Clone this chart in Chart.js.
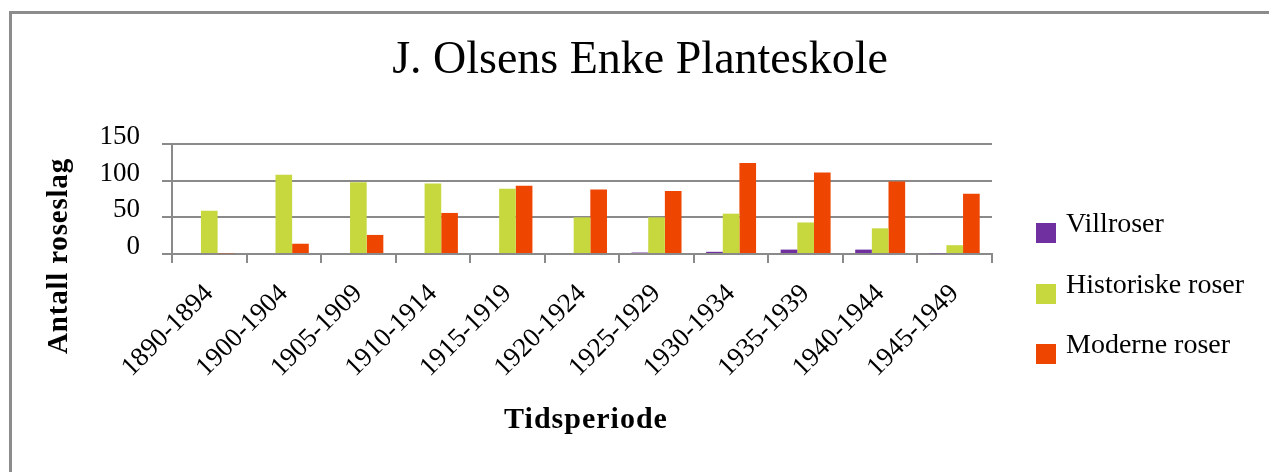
<!DOCTYPE html>
<html><head><meta charset="utf-8">
<script src="https://cdn.jsdelivr.net/npm/chart.js@4.4.1/dist/chart.umd.min.js"></script>
<style>
html,body{margin:0;padding:0;background:#fff;overflow:hidden}
#wrap{position:relative;width:1269px;height:472px}
#frame{position:absolute;left:9px;top:11px;width:1300px;height:500px;border-left:3px solid #8c8c8c;border-top:3px solid #8c8c8c;box-sizing:border-box}
canvas{position:absolute;left:0;top:0}
</style></head><body>
<div id="wrap"><div id="frame"></div><canvas id="c" width="1269" height="472"></canvas></div>
<script>
const chartTitle = 'J. Olsens Enke Planteskole';
const xTitle = 'Tidsperiode';
const yTitle = 'Antall roseslag';
const categories = ['1890-1894','1900-1904','1905-1909','1910-1914','1915-1919','1920-1924','1925-1929','1930-1934','1935-1939','1940-1944','1945-1949'];
const seriesNames = ['Villroser','Historiske roser','Moderne roser'];
const villroser = [0, 0, 0, 0, 0, 0, 2, 3, 6, 6, 1];
const historiske = [59, 108, 98, 96, 89, 50, 50, 55, 43, 35, 12];
const moderne = [1, 14, 26, 56, 93, 88, 86, 124, 111, 99, 82];
const yTicks = [0, 50, 100, 150];
const colors = ['#7030A0', '#C6D83E', '#EE4500'];

const FONT = "'Liberation Serif', 'Times New Roman', serif";
const GRID = '#8a8a8a';

const decor = {
  id: 'decor',
  afterDraw(chart) {
    const ctx = chart.ctx;
    const ca = chart.chartArea;
    ctx.save();
    ctx.fillStyle = '#000';
    // title
    ctx.font = '46px ' + FONT;
    ctx.textAlign = 'center';
    ctx.textBaseline = 'alphabetic';
    ctx.fillText(chartTitle, 640, 73);
    // x title
    ctx.font = 'bold 30px ' + FONT;
    ctx.letterSpacing = '1px';
    ctx.fillText(xTitle, (ca.left + ca.right) / 2 + 4, 428);
    // y title
    ctx.save();
    ctx.translate(67, 256);
    ctx.rotate(-Math.PI / 2);
    ctx.font = 'bold 29px ' + FONT;
    ctx.letterSpacing = '0.8px';
    ctx.fillText(yTitle, 0, 0);
    ctx.restore();
    ctx.letterSpacing = '0px';
    // legend
    ctx.font = '28px ' + FONT;
    ctx.textAlign = 'left';
    const tops = [223, 284, 344];
    chart.data.datasets.forEach((ds, i) => {
      ctx.fillStyle = ds.backgroundColor;
      ctx.fillRect(1036, tops[i], 20, 20);
      ctx.fillStyle = '#000';
      ctx.fillText(ds.label, 1066, tops[i] + 9);
    });
    ctx.restore();
  }
};

new Chart(document.getElementById('c'), {
  type: 'bar',
  data: {
    labels: categories,
    datasets: [
      { label: seriesNames[0], data: villroser, backgroundColor: colors[0] },
      { label: seriesNames[1], data: historiske, backgroundColor: colors[1] },
      { label: seriesNames[2], data: moderne, backgroundColor: colors[2] }
    ]
  },
  options: {
    responsive: false,
    animation: false,
    datasets: { bar: { barPercentage: 1.0, categoryPercentage: 0.67 } },
    layout: { padding: { left: 0, right: 277, top: 144, bottom: 0 } },
    plugins: { legend: { display: false }, title: { display: false }, tooltip: { enabled: false } },
    scales: {
      x: {
        afterFit(s) { s.height = 218; },
        grid: { display: true, drawOnChartArea: false, drawTicks: true, tickLength: 9, color: GRID, lineWidth: 2, offset: true },
        border: { display: true, color: GRID, width: 2 },
        ticks: { autoSkip: false, maxRotation: 45, minRotation: 45, padding: 15, color: '#000', font: { family: FONT, size: 27 } }
      },
      y: {
        min: 0, max: 150,
        afterFit(s) { s.width = 172; },
        afterBuildTicks(s) { s.ticks = yTicks.map(v => ({ value: v })); },
        grid: { color: GRID, lineWidth: 2, tickLength: 10, drawTicks: true },
        border: { display: true, color: GRID, width: 2 },
        ticks: { stepSize: 50, padding: 22, labelOffset: -7, color: '#000', font: { family: FONT, size: 27 } }
      }
    }
  },
  plugins: [decor]
});
</script>
</body></html>
